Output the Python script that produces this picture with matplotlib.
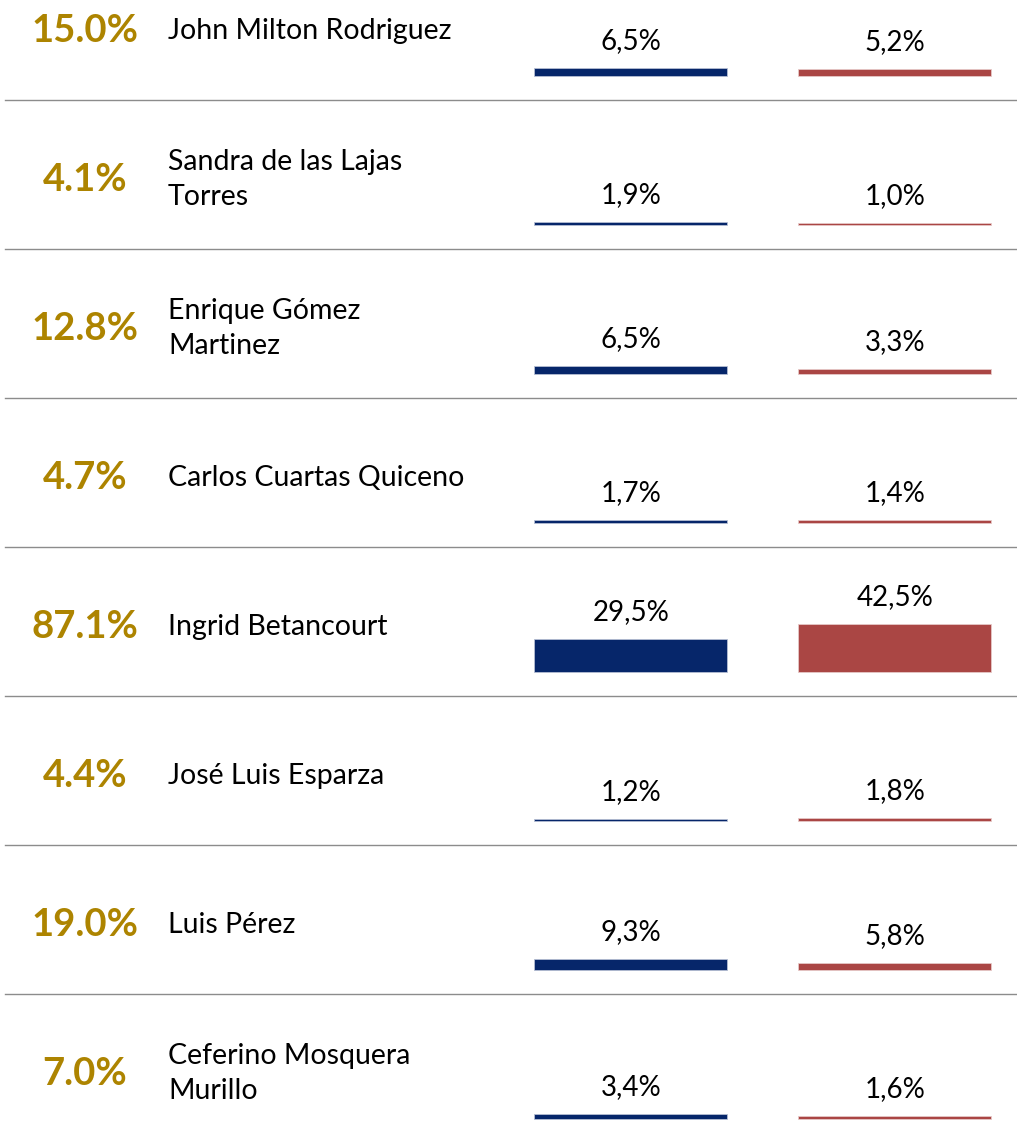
import matplotlib
matplotlib.use("Agg")
import matplotlib.pyplot as plt
from matplotlib.colors import to_rgba

plt.rcParams['font.family'] = ['Lato', 'DejaVu Sans']

totals = ["15.0%", "4.1%", "12.8%", "4.7%", "87.1%", "4.4%", "19.0%", "7.0%"]
names = ["John Milton Rodriguez", "Sandra de las Lajas\nTorres", "Enrique Gómez\nMartinez",
         "Carlos Cuartas Quiceno", "Ingrid Betancourt", "José Luis Esparza",
         "Luis Pérez", "Ceferino Mosquera\nMurillo"]
blue_vals = [6.5, 1.9, 6.5, 1.7, 29.5, 1.2, 9.3, 3.4]
red_vals = [5.2, 1.0, 3.3, 1.4, 42.5, 1.8, 5.8, 1.6]

BLUE = '#06266a'
RED = '#aa4644'
GOLD = '#ad8400'

W, H = 1017, 1138
fig = plt.figure(figsize=(W / 100, H / 100), dpi=100)

row_h = 149
first_top = -49
px_per_pct = 1.1
base_px = 24

def fmt(v):
    return f"{v:.1f}".replace(".", ",") + "%"

for i in range(len(names)):
    top = first_top + row_h * i
    bottom_frac = 1 - (top + row_h) / H
    ax = fig.add_axes([0, bottom_frac, 1, row_h / H])
    ax.set_axis_off()
    # x units: blue bar at 0, red at 1 (264 px apart)
    ax.set_xlim(-631 / 264, (W - 631) / 264)
    ax.set_ylim(-base_px / px_per_pct, (row_h - base_px) / px_per_pct)

    vals = [blue_vals[i], red_vals[i]]
    for x, v, c in zip([0, 1], vals, [BLUE, RED]):
        ax.bar(x, v, width=192 / 264, bottom=0, color=c,
               edgecolor=to_rgba(c, 0.4), linewidth=1.2)
        ax.text(x, v + 20 / px_per_pct, fmt(v), ha='center', va='baseline',
                fontsize=20, color='black')

    ax.text(85 / W, 0.465, totals[i], transform=ax.transAxes, ha='center', va='center',
            fontsize=27.5, fontweight='bold', color=GOLD)
    ax.text(168 / W, 0.465, names[i], transform=ax.transAxes, ha='left', va='center',
            fontsize=20.5, color='black', linespacing=1.45)

    # separator under each row
    ax.plot([5 / W, 1], [0, 0], transform=ax.transAxes, color='#8c8c8c', lw=1,
            clip_on=False)

fig.savefig('out.png', dpi=100, facecolor='white')
